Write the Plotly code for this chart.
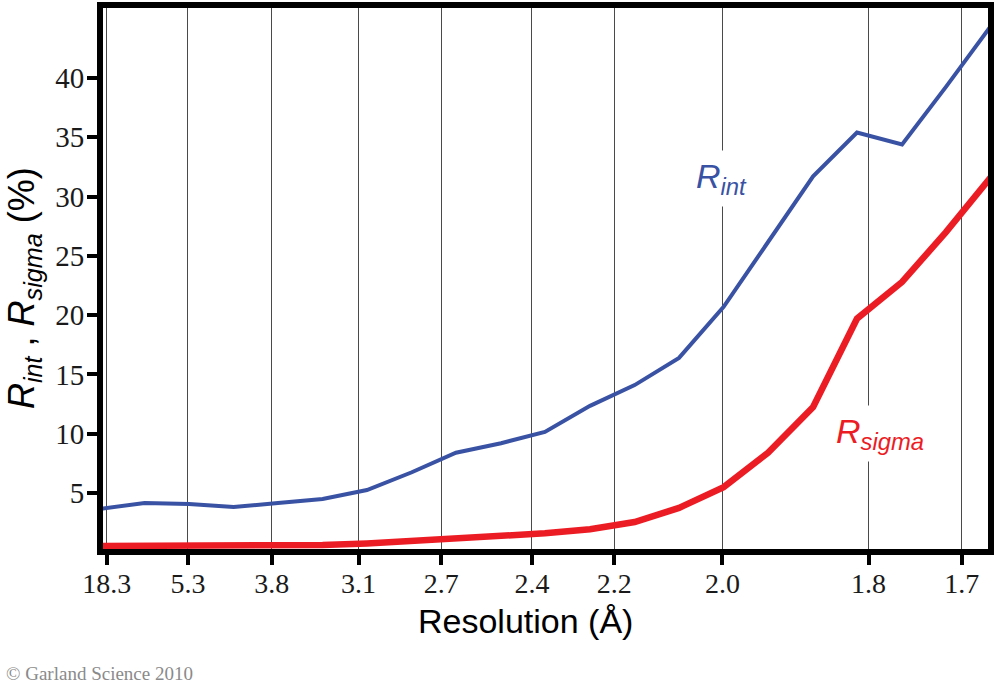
import plotly.graph_objects as go

# x positions of resolution shells, as 1/d^2 (Å^-2)
shell_inv_d2 = [0.0003, 0.0182, 0.0360, 0.0539, 0.0717, 0.0896, 0.1074, 0.1254,
                0.1431, 0.1612, 0.1788, 0.1969, 0.2148, 0.2326, 0.2505, 0.2683,
                0.2864, 0.3040, 0.3221, 0.3397, 0.3578]
r_int = [3.67, 4.16, 4.07, 3.82, 4.15, 4.5, 5.25, 6.75, 8.4, 9.2, 10.15, 12.35,
         14.1, 16.4, 20.7, 26.2, 31.7, 35.4, 34.4, 39.25, 44.4]
r_sigma = [0.53, 0.55, 0.55, 0.52, 0.57, 0.62, 0.75, 0.95, 1.15, 1.35, 1.6, 1.95,
           2.55, 3.75, 5.5, 8.4, 12.25, 19.7, 22.8, 27.0, 31.65]

tick_labels = ["18.3", "5.3", "3.8", "3.1", "2.7", "2.4", "2.2", "2.0", "1.8", "1.7"]
y_ticks = [5, 10, 15, 20, 25, 30, 35, 40]

tick_vals = [1.0 / float(t) ** 2 for t in tick_labels]

BLUE = "#3A52A3"
RED = "#EC1C24"

fig = go.Figure()
fig.add_trace(go.Scatter(x=shell_inv_d2, y=r_int, mode="lines",
                         line=dict(color=BLUE, width=4), showlegend=False))
fig.add_trace(go.Scatter(x=shell_inv_d2, y=r_sigma, mode="lines",
                         line=dict(color=RED, width=6.5), showlegend=False))

L, R, T, B = 103, 988, 8, 549
W, H = 1000, 699

def px(x):
    return (x - L) / (R - L)

def py(y):
    return (B - y) / (B - T)

fig.update_layout(
    width=W, height=H,
    margin=dict(l=L, r=W - R, t=T, b=H - B, pad=0, autoexpand=False),
    paper_bgcolor="white", plot_bgcolor="white",
    xaxis=dict(
        range=[0.0015, 0.35657], automargin=False,
        tickmode="array", tickvals=tick_vals, ticktext=tick_labels,
        showgrid=True, gridcolor="#4a4a4a", gridwidth=1,
        showline=True, linecolor="black", linewidth=6, mirror=True,
        ticks="outside", ticklen=10, tickwidth=4, tickcolor="black",
        ticklabelstandoff=-6,
        tickfont=dict(family="Liberation Serif", size=28, color="#1a1a1a"),
        zeroline=False,
    ),
    yaxis=dict(
        range=[0.28, 45.9], automargin=False,
        tickmode="array", tickvals=y_ticks,
        showgrid=False,
        showline=True, linecolor="black", linewidth=6, mirror=True,
        ticks="outside", ticklen=10, tickwidth=4, tickcolor="black",
        ticklabelstandoff=-3,
        tickfont=dict(family="Liberation Serif", size=29, color="#1a1a1a"),
        zeroline=False,
    ),
    annotations=[
        dict(xref="paper", yref="paper", x=px(525), y=py(621),
             text="Resolution (Å)", showarrow=False,
             xanchor="center", yanchor="middle",
             font=dict(family="Liberation Sans", size=34, color="black")),
        dict(xref="paper", yref="paper", x=px(24), y=py(288),
             text="<i>R<sub>int</sub></i> , <i>R<sub>sigma</sub></i> (%)",
             textangle=-90, showarrow=False,
             xanchor="center", yanchor="middle",
             font=dict(family="Liberation Sans", size=36, color="black")),
        dict(xref="paper", yref="paper", x=px(721), y=py(178),
             text="<i>R<sub>int</sub></i>", showarrow=False,
             xanchor="center", yanchor="middle", bgcolor="white", borderpad=6,
             font=dict(family="Liberation Sans", size=34, color=BLUE)),
        dict(xref="paper", yref="paper", x=px(880), y=py(433),
             text="<i>R<sub>sigma</sub></i>", showarrow=False,
             xanchor="center", yanchor="middle", bgcolor="white", borderpad=6,
             font=dict(family="Liberation Sans", size=34, color=RED)),
        dict(xref="paper", yref="paper", x=px(4), y=py(673),
             text="© Garland Science 2010", showarrow=False,
             xanchor="left", yanchor="middle",
             font=dict(family="Liberation Serif", size=19, color="#8a8a8a")),
    ],
)

fig.write_html("out.html")
